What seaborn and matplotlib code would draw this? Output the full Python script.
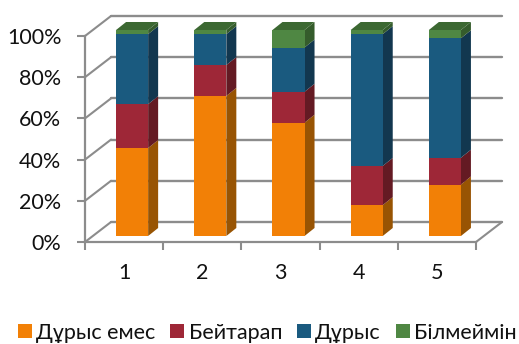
import matplotlib
matplotlib.use("Agg")
import matplotlib.pyplot as plt
import seaborn as sns
from matplotlib.patches import Polygon
from matplotlib.transforms import Affine2D

categories = ["1", "2", "3", "4", "5"]
series_names = ["Дұрыс емес", "Бейтарап", "Дұрыс", "Білмеймін"]
wrong = [42.7, 68, 55, 15, 25]
neutral = [21.3, 15, 15, 19, 13]
right = [34, 15, 21.5, 64, 58]
unknown = [2, 2, 8.5, 2, 4]
series_values = [wrong, neutral, right, unknown]

front_colors = ["#F28006", "#9E2737", "#1A5A7F", "#4F8743"]
side_colors = ["#985403", "#641A23", "#12374F", "#355C2C"]
top_color = "#3C6832"
grid_color = "#8C8C8C"
text_color = "#111111"

W, H = 519, 344
sns.set_theme(style="white")
plt.rcParams["font.family"] = ["Lato", "Open Sans", "DejaVu Sans"]

fig = plt.figure(figsize=(W / 100, H / 100), dpi=100)
# Front edge of the floor and left wall of the 3-D box, in pixels
ax = fig.add_axes([85 / W, (H - 242) / H, 391 / W, 206 / H])

# Depths in pixels: wall behind the axes, and front/back planes of each column
WALL = (26, 20)
BAR_FRONT = (8, 6)
BAR_BACK = (18, 14)

bottoms = [0.0] * len(categories)
layers = []
for name, values, color in zip(series_names, series_values, front_colors):
    before = len(ax.patches)
    sns.barplot(x=categories, y=values, bottom=bottoms, color=color, saturation=1,
                width=0.41, label=name, ax=ax, zorder=3, legend=False,
                edgecolor="none", linewidth=0)
    layers.append(ax.patches[before:])
    bottoms = [b + v for b, v in zip(bottoms, values)]

ax.set_xlim(-0.5, 4.5)
ax.set_ylim(0, 100)
for s in ("top", "right"):
    ax.spines[s].set_visible(False)
for s in ("left", "bottom"):
    ax.spines[s].set_color(grid_color)
    ax.spines[s].set_linewidth(1.6)

y_ticks = [0, 20, 40, 60, 80, 100]
ax.set_yticks(y_ticks, [f"{t}%" for t in y_ticks])
ax.set_xticks(range(5), categories)
ax.set_xticks([i - 0.5 for i in range(6)], minor=True)
ax.tick_params(axis="y", length=6, width=1.5, color=grid_color, left=True, pad=11,
               labelsize=15.5, labelcolor=text_color)
ax.tick_params(axis="x", which="major", length=0, pad=15, labelsize=15.5, labelcolor=text_color)
ax.tick_params(axis="x", which="minor", length=6, width=1.5, color=grid_color, bottom=True)


def shifted(dx, dy):
    return ax.transData + Affine2D().translate(dx, dy)


# Back wall, side wall edges and floor edge
wall = shifted(*WALL)
for t in y_ticks:
    ax.plot([-0.5, 4.5], [t, t], color=grid_color, lw=1.7, transform=wall, clip_on=False, zorder=1)
    corner = ax.transData.transform((-0.5, t))
    ax.plot([corner[0], corner[0] + WALL[0]], [corner[1], corner[1] + WALL[1]],
            color=grid_color, lw=1.5, transform=None, clip_on=False, zorder=1)
corner = ax.transData.transform((4.5, 0))
ax.plot([corner[0], corner[0] + WALL[0]], [corner[1], corner[1] + WALL[1]],
        color=grid_color, lw=1.5, transform=None, clip_on=False, zorder=1)

# Extrude each stacked segment: shift the front face, then add side and top faces
front = shifted(*BAR_FRONT)
back_dx = BAR_BACK[0] - BAR_FRONT[0]
back_dy = BAR_BACK[1] - BAR_FRONT[1]
n_layers = len(layers)
for li, (patches, side) in enumerate(zip(layers, side_colors)):
    for bar in patches:
        x0, y0 = bar.get_x(), bar.get_y()
        x1, y1 = x0 + bar.get_width(), y0 + bar.get_height()
        bar.set_transform(front)
        bar.set_clip_on(False)
        bar.set_zorder(4)
        p00 = front.transform((x1, y0))
        p01 = front.transform((x1, y1))
        side_face = Polygon([p00, p00 + (back_dx, back_dy), p01 + (back_dx, back_dy), p01],
                            closed=True, facecolor=side, edgecolor="none",
                            transform=None, clip_on=False, zorder=3)
        ax.add_patch(side_face)
        if li == n_layers - 1:
            q0 = front.transform((x0, y1))
            top_face = Polygon([q0, p01, p01 + (back_dx, back_dy), q0 + (back_dx, back_dy)],
                               closed=True, facecolor=top_color, edgecolor="none",
                               transform=None, clip_on=False, zorder=3)
            ax.add_patch(top_face)

handles = [layer[0] for layer in layers]
fig.legend(handles, series_names, loc="lower center", bbox_to_anchor=(0.515, -0.027), ncol=4,
           frameon=False, fontsize=15.5, handlelength=0.65, handleheight=0.65, handletextpad=0.19,
           columnspacing=0.7, labelcolor=text_color, borderpad=0.0)

fig.savefig("out.png", dpi=100, facecolor="white")
